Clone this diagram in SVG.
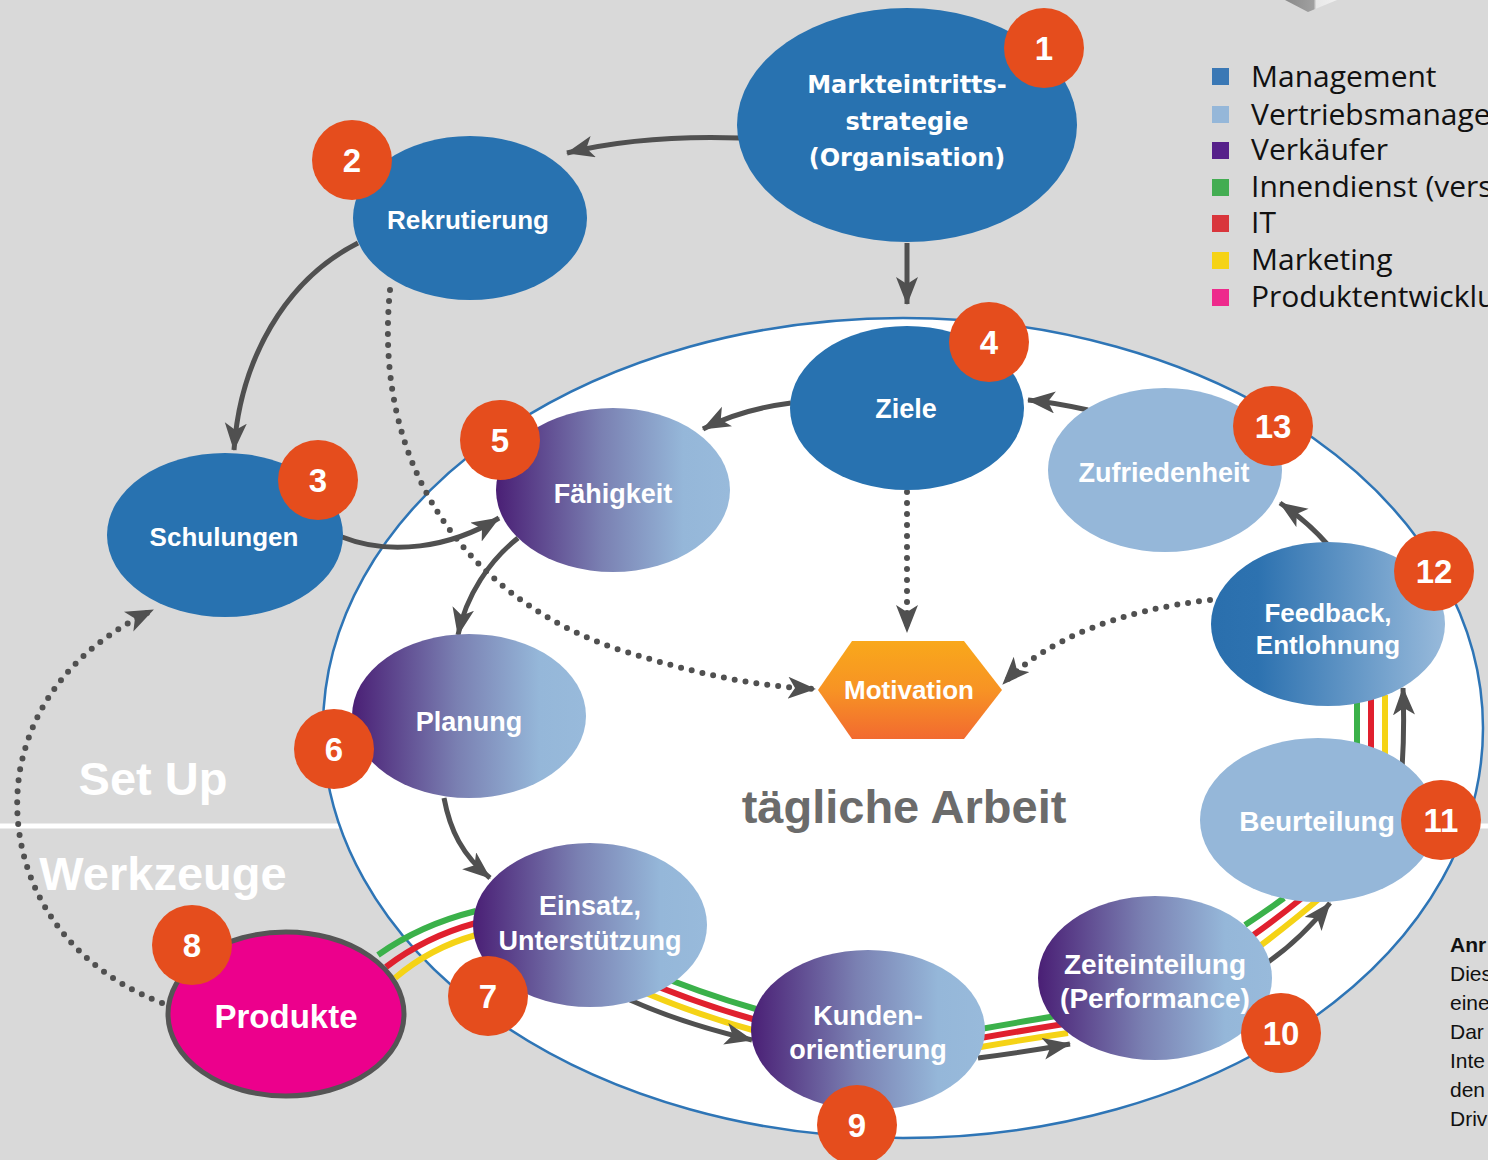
<svg xmlns="http://www.w3.org/2000/svg" width="1488" height="1160" viewBox="0 0 1488 1160">
<defs>
<style>
.lbl{font-family:"Liberation Sans",Arial,sans-serif;font-weight:bold;fill:#fff;text-anchor:middle;font-size:27px}
.num{font-family:"Liberation Sans",Arial,sans-serif;font-weight:bold;fill:#fff;text-anchor:middle;font-size:33px}
.badge{fill:#e54d1d}
.dark{fill:#2872b0}
.light{fill:#95b7d9}
.arr{fill:none;stroke:#505050;stroke-width:5;marker-end:url(#ah)}
.dot{fill:none;stroke:#505050;stroke-width:6;stroke-dasharray:0 11;stroke-linecap:round;marker-end:url(#ah)}
.sg{fill:none;stroke:#3bb14a;stroke-width:6}
.sr{fill:none;stroke:#e0202e;stroke-width:6}
.sy{fill:none;stroke:#f5d316;stroke-width:6}
.leg{font-family:"Open Sans","Noto Sans",sans-serif;font-size:30px;fill:#111}
.note{font-family:"Liberation Sans",Arial,sans-serif;font-size:21px;fill:#111}
.big{font-family:"Liberation Sans",Arial,sans-serif;font-weight:bold;font-size:47px}
</style>
<marker id="ah" markerUnits="userSpaceOnUse" markerWidth="30" markerHeight="24" refX="27" refY="11" orient="auto">
<path d="M0,0 L28,11 L0,22 L7,11 z" fill="#505050"/>
</marker>
<linearGradient id="gP" x1="0" y1="0" x2="1" y2="0">
<stop offset="0" stop-color="#4a1f75"/>
<stop offset="0.45" stop-color="#7a80b2"/>
<stop offset="0.8" stop-color="#95b7d9"/>
<stop offset="1" stop-color="#98badb"/>
</linearGradient>
<linearGradient id="gF" x1="0" y1="0" x2="1" y2="0">
<stop offset="0" stop-color="#2a6fad"/>
<stop offset="0.2" stop-color="#2d72b0"/>
<stop offset="1" stop-color="#98badb"/>
</linearGradient>
<linearGradient id="gH" x1="0" y1="0" x2="0" y2="1">
<stop offset="0" stop-color="#f9a81b"/>
<stop offset="0.5" stop-color="#f79324"/>
<stop offset="1" stop-color="#f26a30"/>
</linearGradient>
<linearGradient id="gT" x1="0" y1="0" x2="1" y2="0">
<stop offset="0" stop-color="#8a8a8a"/>
<stop offset="0.55" stop-color="#a0a0a0"/>
<stop offset="0.6" stop-color="#e8e8e8"/>
<stop offset="1" stop-color="#f0f0f0"/>
</linearGradient>
</defs>

<rect x="0" y="0" width="1488" height="1160" fill="#d9d9d9"/>
<polygon points="1285,0 1337,0 1308,12" fill="url(#gT)"/>
<line x1="0" y1="826" x2="1488" y2="826" stroke="#fff" stroke-width="5"/>
<ellipse cx="903" cy="728" rx="580" ry="410" fill="#fff" stroke="#2e75b6" stroke-width="2.5"/>

<text class="big" x="153" y="795" text-anchor="middle" fill="#fff">Set Up</text>
<text class="big" x="163" y="890" text-anchor="middle" fill="#fff">Werkzeuge</text>
<text class="big" x="904" y="823" text-anchor="middle" fill="#6b6b6b">tägliche Arbeit</text>

<g id="legend">
<rect x="1212" y="68" width="17" height="17" fill="#3a78b5"/>
<text class="leg" x="1251" y="87">Management</text>
<rect x="1212" y="106" width="17" height="17" fill="#95b7d9"/>
<text class="leg" x="1251" y="125">Vertriebsmanage</text>
<rect x="1212" y="142" width="17" height="17" fill="#56208a"/>
<text class="leg" x="1251" y="160">Verkäufer</text>
<rect x="1212" y="179" width="17" height="17" fill="#43ad52"/>
<text class="leg" x="1251" y="197">Innendienst (vers</text>
<rect x="1212" y="215" width="17" height="17" fill="#d9363c"/>
<text class="leg" x="1251" y="233">IT</text>
<rect x="1212" y="252" width="17" height="17" fill="#f5d316"/>
<text class="leg" x="1251" y="270">Marketing</text>
<rect x="1212" y="289" width="17" height="17" fill="#ee2a8c"/>
<text class="leg" x="1251" y="307">Produktentwicklu</text>
</g>

<g id="note">
<text class="note" x="1450" y="952" font-weight="bold">Anr</text>
<text class="note" x="1450" y="981">Dies</text>
<text class="note" x="1450" y="1010">eine</text>
<text class="note" x="1450" y="1039">Dar</text>
<text class="note" x="1450" y="1068">Inte</text>
<text class="note" x="1450" y="1097">den</text>
<text class="note" x="1450" y="1126">Driv</text>
</g>

<g id="connectors">
<path class="arr" d="M740,138 C680,136 620,140 567,153"/>
<path class="arr" d="M907,243 L907,304"/>
<path class="arr" d="M358,243 C285,280 240,360 234,450"/>
<path class="arr" d="M342,537 C390,556 450,548 499,518"/>
<path class="arr" d="M791,403 C760,407 730,415 703,429"/>
<path class="arr" d="M518,538 C490,560 466,595 458,635"/>
<path class="arr" d="M444,798 C450,830 462,855 490,878"/>
<path class="sg" d="M378,955 Q420,925 476,911"/>
<path class="sr" d="M386,967 Q425,937 476,923"/>
<path class="sy" d="M395,978 Q430,948 476,935"/>
<path class="sg" d="M640,968 Q700,993 756,1009"/>
<path class="sr" d="M635,977 Q695,1003 756,1020"/>
<path class="sy" d="M630,986 Q690,1013 756,1031"/>
<path class="arr" d="M630,1000 C670,1018 710,1030 752,1040"/>
<path class="sg" d="M975,1030 Q1020,1022 1062,1015"/>
<path class="sr" d="M975,1039 Q1020,1031 1064,1024"/>
<path class="sy" d="M975,1048 Q1020,1040 1068,1033"/>
<path class="arr" d="M978,1058 Q1025,1052 1070,1044"/>
<path class="sg" d="M1245,925 Q1265,912 1284,898"/>
<path class="sr" d="M1252,936 Q1275,920 1302,898"/>
<path class="sy" d="M1260,946 Q1288,925 1320,898"/>
<path class="arr" d="M1268,962 Q1300,940 1330,903"/>
<line class="sg" x1="1357" y1="695" x2="1357" y2="752"/>
<line class="sr" x1="1371" y1="695" x2="1371" y2="752"/>
<line class="sy" x1="1385" y1="695" x2="1385" y2="756"/>
<path class="arr" d="M1402,768 C1404,740 1404,715 1403,688"/>
<path class="arr" d="M1328,545 C1315,530 1298,515 1280,503"/>
<path class="arr" d="M1088,410 C1070,406 1050,402 1028,400"/>
<path class="dot" d="M907,492 L907,632"/>
<path class="dot" d="M390,290 C372,470 470,600 620,650 C690,672 750,686 815,689"/>
<path class="dot" d="M1210,600 C1120,610 1045,640 1003,684"/>
<path class="dot" d="M162,1003 C50,960 5,860 20,770 C35,690 90,640 153,610"/>
</g>

<g id="n1">
<ellipse class="dark" cx="907" cy="125" rx="170" ry="117"/>
<text class="lbl" style="font-family:'DejaVu Sans',Verdana,sans-serif;font-size:24px" x="907" y="93">Markteintritts-</text>
<text class="lbl" style="font-family:'DejaVu Sans',Verdana,sans-serif;font-size:24px" x="907" y="130">strategie</text>
<text class="lbl" style="font-family:'DejaVu Sans',Verdana,sans-serif;font-size:24px" x="907" y="166">(Organisation)</text>
<circle class="badge" cx="1044" cy="48" r="40"/>
<text class="num" x="1044" y="60">1</text>
</g>
<g id="n2">
<ellipse class="dark" cx="470" cy="218" rx="117" ry="82"/>
<text class="lbl" style="font-size:26px" x="468" y="229">Rekrutierung</text>
<circle class="badge" cx="352" cy="160" r="40"/>
<text class="num" x="352" y="172">2</text>
</g>
<g id="n3">
<ellipse class="dark" cx="225" cy="535" rx="118" ry="82"/>
<text class="lbl" style="font-size:26px" x="224" y="546">Schulungen</text>
<circle class="badge" cx="318" cy="480" r="40"/>
<text class="num" x="318" y="492">3</text>
</g>
<g id="n4">
<ellipse class="dark" cx="907" cy="408" rx="117" ry="82"/>
<text class="lbl" x="906" y="418">Ziele</text>
<circle class="badge" cx="989" cy="342" r="40"/>
<text class="num" x="989" y="354">4</text>
</g>
<g id="n5">
<ellipse fill="url(#gP)" cx="613" cy="490" rx="117" ry="82"/>
<text class="lbl" x="613" y="503">Fähigkeit</text>
<circle class="badge" cx="500" cy="440" r="40"/>
<text class="num" x="500" y="452">5</text>
</g>
<g id="n6">
<ellipse fill="url(#gP)" cx="469" cy="716" rx="117" ry="82"/>
<text class="lbl" x="469" y="731">Planung</text>
<circle class="badge" cx="334" cy="749" r="40"/>
<text class="num" x="334" y="761">6</text>
</g>
<g id="n7">
<ellipse fill="url(#gP)" cx="590" cy="925" rx="117" ry="82"/>
<text class="lbl" x="590" y="915">Einsatz,</text>
<text class="lbl" x="590" y="950">Unterstützung</text>
<circle class="badge" cx="488" cy="996" r="40"/>
<text class="num" x="488" y="1008">7</text>
</g>
<g id="n8">
<ellipse fill="#ec008c" stroke="#555" stroke-width="5" cx="286" cy="1014" rx="118" ry="82"/>
<text class="lbl" style="font-size:33px" x="286" y="1028">Produkte</text>
<circle class="badge" cx="192" cy="945" r="40"/>
<text class="num" x="192" y="957">8</text>
</g>
<g id="n9">
<ellipse fill="url(#gP)" cx="868" cy="1030" rx="117" ry="80"/>
<text class="lbl" x="868" y="1025">Kunden-</text>
<text class="lbl" x="868" y="1059">orientierung</text>
<circle class="badge" cx="857" cy="1125" r="40"/>
<text class="num" x="857" y="1137">9</text>
</g>
<g id="n10">
<ellipse fill="url(#gP)" cx="1155" cy="978" rx="117" ry="82"/>
<text class="lbl" style="font-size:28px" x="1155" y="974">Zeiteinteilung</text>
<text class="lbl" style="font-size:28px" x="1155" y="1008">(Performance)</text>
<circle class="badge" cx="1281" cy="1033" r="40"/>
<text class="num" x="1281" y="1045">10</text>
</g>
<g id="n11">
<ellipse class="light" cx="1318" cy="820" rx="118" ry="82"/>
<text class="lbl" style="font-size:28px" x="1317" y="831">Beurteilung</text>
<circle class="badge" cx="1441" cy="820" r="40"/>
<text class="num" x="1441" y="832">11</text>
</g>
<g id="n12">
<ellipse fill="url(#gF)" cx="1328" cy="624" rx="117" ry="82"/>
<text class="lbl" style="font-size:26px" x="1328" y="622">Feedback,</text>
<text class="lbl" style="font-size:26px" x="1328" y="654">Entlohnung</text>
<circle class="badge" cx="1434" cy="571" r="40"/>
<text class="num" x="1434" y="583">12</text>
</g>
<g id="n13">
<ellipse class="light" cx="1165" cy="470" rx="117" ry="82"/>
<text class="lbl" x="1164" y="482">Zufriedenheit</text>
<circle class="badge" cx="1273" cy="426" r="40"/>
<text class="num" x="1273" y="438">13</text>
</g>
<g id="motivation">
<polygon points="852,641 964,641 1002,690 964,739 852,739 818,690" fill="url(#gH)"/>
<text class="lbl" style="font-size:26px" x="909" y="699">Motivation</text>
</g>
</svg>
